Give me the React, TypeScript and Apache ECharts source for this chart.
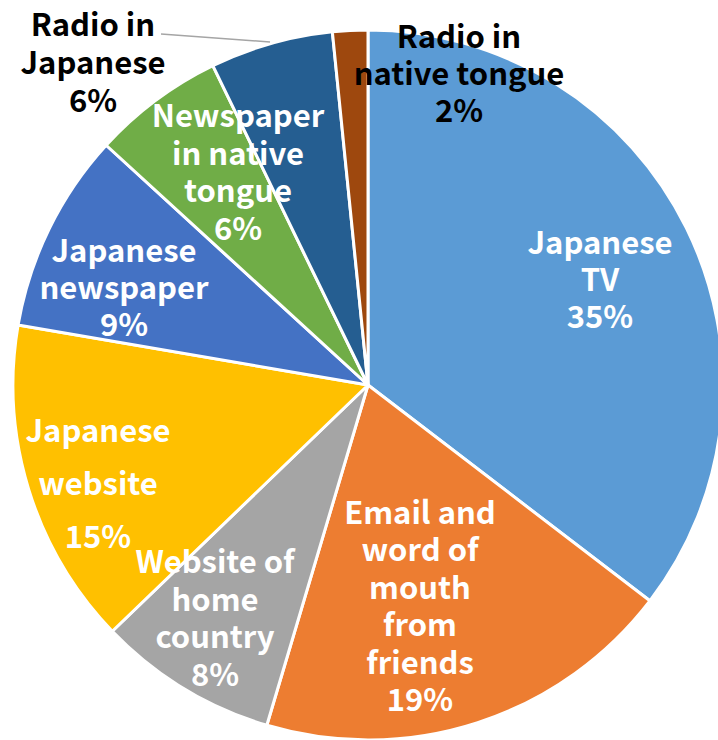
import React, { useEffect, useRef } from "react";
import * as echarts from "echarts";

const categories = [
  "Japanese TV",
  "Email and word of mouth from friends",
  "Website of home country",
  "Japanese website",
  "Japanese newspaper",
  "Newspaper in native tongue",
  "Radio in Japanese",
  "Radio in native tongue",
];
const labelTexts = [
  "Japanese\nTV",
  "Email and\nword of\nmouth\nfrom\nfriends",
  "Website of\nhome\ncountry",
  "Japanese\nwebsite",
  "Japanese\nnewspaper",
  "Newspaper\nin native\ntongue",
  "Radio in\nJapanese",
  "Radio in\nnative tongue",
];
const values = [35.4, 19.2, 8.2, 14.9, 9.1, 6.0, 5.6, 1.6];
const colors = ["#5B9BD5", "#ED7D31", "#A5A5A5", "#FFC000", "#4472C4", "#70AD47", "#255E91", "#9E480E"];

const labelPos: [number, number][] = [
  [600, 277],
  [420, 604],
  [215, 616],
  [98, 481],
  [124, 285],
  [238, 170],
  [93, 60],
  [459, 71],
];
const labelColors = ["#fff", "#fff", "#fff", "#fff", "#fff", "#fff", "#000", "#000"];
const lineHeights = [37, 37.5, 37.5, 53, 37, 37.5, 38, 37];

export default function App() {
  const ref = useRef<HTMLDivElement>(null);
  useEffect(() => {
    if (!ref.current) return;
    const chart = echarts.init(ref.current, null, { renderer: "svg" });
    const font = '"Noto Sans CJK JP", "Noto Sans", sans-serif';
    chart.setOption({
      animation: false,
      backgroundColor: "#fff",
      graphic: [
        {
          type: "line",
          shape: { x1: 161, y1: 34, x2: 270, y2: 42 },
          style: { stroke: "#A5A5A5", lineWidth: 1.5 },
          z: 100,
        },
      ],
      series: [
        {
          type: "pie",
          center: [368, 385],
          radius: [0, 355],
          startAngle: 90,
          clockwise: true,
          avoidLabelOverlap: false,
          itemStyle: { borderColor: "#fff", borderWidth: 3 },
          labelLine: { show: false },
          label: {
            show: true,
            position: "inside",
            fontFamily: font,
            fontWeight: "bold",
            fontSize: 31,
          },
          labelLayout: (params: any) => {
            const p = labelPos[params.dataIndex];
            return { x: p[0], y: p[1], align: "center", verticalAlign: "middle" };
          },
          data: categories.map((name, i) => ({
            name,
            value: values[i],
            itemStyle: { color: colors[i] },
            label: {
              color: labelColors[i],
              lineHeight: lineHeights[i],
              formatter: (p: any) => `${labelTexts[i]}\n${Math.round(p.percent)}%`,
            },
          })),
        },
      ],
    });
    return () => chart.dispose();
  }, []);
  return (
    <div
      ref={ref}
      style={{ position: "fixed", left: 0, top: 0, width: 718, height: 740 }}
    />
  );
}
